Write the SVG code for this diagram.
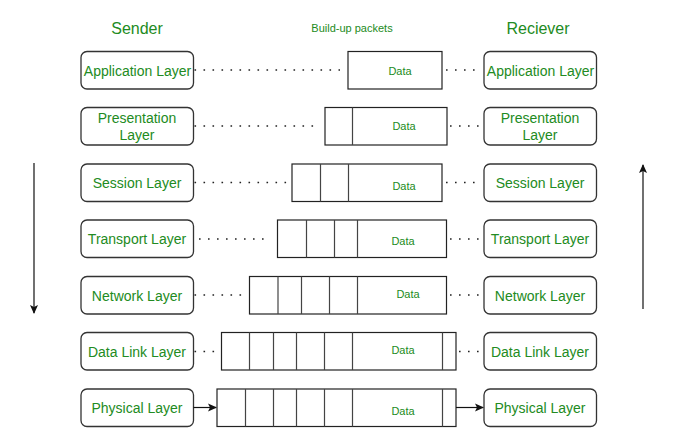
<svg xmlns="http://www.w3.org/2000/svg" width="694" height="438" viewBox="0 0 694 438">
<defs>
<style>
.box{fill:#fff;stroke:#333;stroke-width:1.3}
.pk{fill:#fff;stroke:#222;stroke-width:1.2}
.dv{stroke:#444;stroke-width:1.2}
.lt{font-family:"Liberation Sans",Arial,sans-serif;font-size:14px;fill:#228b22;text-anchor:middle;dominant-baseline:central}
.dt{font-family:"Liberation Sans",Arial,sans-serif;font-size:11px;fill:#228b22;text-anchor:middle;dominant-baseline:central}
.hd{font-family:"Liberation Sans",Arial,sans-serif;font-size:16px;fill:#228b22;text-anchor:middle;dominant-baseline:central}
.dot{stroke:#222;stroke-width:1.6;stroke-dasharray:1.6 7.4;fill:none}
.ln{stroke:#111;stroke-width:1.2;fill:none}
</style>
<marker id="ah" markerWidth="10" markerHeight="10" refX="8" refY="5" orient="auto" markerUnits="userSpaceOnUse">
<path d="M0,1 L9,5 L0,9 L2,5 Z" fill="#111"/>
</marker>
</defs>
<rect width="694" height="438" fill="#fff"/>
<text class="hd" x="137" y="28">Sender</text>
<text class="dt" x="352" y="28">Build-up packets</text>
<text class="hd" x="538" y="28">Reciever</text>

<g id="sender">
<g id="s-app"><rect class="box" x="81" y="51.5" width="112.5" height="37.5" rx="6"/><text class="lt" x="137.5" y="70.5">Application Layer</text></g>
<g id="s-pres"><rect class="box" x="81" y="107.5" width="112.5" height="37.5" rx="6"/><text class="lt" x="137" y="118">Presentation</text><text class="lt" x="137" y="135">Layer</text></g>
<g id="s-sess"><rect class="box" x="81" y="164" width="112.5" height="37.5" rx="6"/><text class="lt" x="137" y="183">Session Layer</text></g>
<g id="s-trans"><rect class="box" x="81" y="220" width="112.5" height="37.5" rx="6"/><text class="lt" x="137" y="239">Transport Layer</text></g>
<g id="s-net"><rect class="box" x="81" y="276.5" width="112.5" height="37.5" rx="6"/><text class="lt" x="137" y="295.5">Network Layer</text></g>
<g id="s-dl"><rect class="box" x="81" y="332.5" width="112.5" height="37.5" rx="6"/><text class="lt" x="137" y="351.5">Data Link Layer</text></g>
<g id="s-phy"><rect class="box" x="81" y="389" width="112.5" height="37.5" rx="6"/><text class="lt" x="137" y="408">Physical Layer</text></g>
</g>

<g id="receiver">
<g id="r-app"><rect class="box" x="484" y="51.5" width="112.5" height="37.5" rx="6"/><text class="lt" x="540.5" y="70.5">Application Layer</text></g>
<g id="r-pres"><rect class="box" x="484" y="107.5" width="112.5" height="37.5" rx="6"/><text class="lt" x="540" y="118">Presentation</text><text class="lt" x="540" y="135">Layer</text></g>
<g id="r-sess"><rect class="box" x="484" y="164" width="112.5" height="37.5" rx="6"/><text class="lt" x="540" y="183">Session Layer</text></g>
<g id="r-trans"><rect class="box" x="484" y="220" width="112.5" height="37.5" rx="6"/><text class="lt" x="540" y="239">Transport Layer</text></g>
<g id="r-net"><rect class="box" x="484" y="276.5" width="112.5" height="37.5" rx="6"/><text class="lt" x="540" y="295.5">Network Layer</text></g>
<g id="r-dl"><rect class="box" x="484" y="332.5" width="112.5" height="37.5" rx="6"/><text class="lt" x="540" y="351.5">Data Link Layer</text></g>
<g id="r-phy"><rect class="box" x="484" y="389" width="112.5" height="37.5" rx="6"/><text class="lt" x="540" y="408">Physical Layer</text></g>
</g>

<g id="packets">
<g id="p-app"><rect class="pk" x="348" y="51.5" width="94" height="37.5"/><text class="dt" x="400" y="71">Data</text></g>
<g id="p-pres"><rect class="pk" x="325" y="107.5" width="122" height="37.5"/><line class="dv" x1="352.5" y1="107.5" x2="352.5" y2="145"/><text class="dt" x="404" y="126">Data</text></g>
<g id="p-sess"><rect class="pk" x="292" y="164" width="150" height="37.5"/><line class="dv" x1="320.5" y1="164" x2="320.5" y2="201.5"/><line class="dv" x1="348.5" y1="164" x2="348.5" y2="201.5"/><text class="dt" x="404" y="186">Data</text></g>
<g id="p-trans"><rect class="pk" x="277.5" y="220" width="169" height="37.5"/><line class="dv" x1="306.5" y1="220" x2="306.5" y2="257.5"/><line class="dv" x1="334.5" y1="220" x2="334.5" y2="257.5"/><line class="dv" x1="357.5" y1="220" x2="357.5" y2="257.5"/><text class="dt" x="403" y="240.5">Data</text></g>
<g id="p-net"><rect class="pk" x="249.5" y="276.5" width="197" height="37.5"/><line class="dv" x1="278" y1="276.5" x2="278" y2="314"/><line class="dv" x1="301.5" y1="276.5" x2="301.5" y2="314"/><line class="dv" x1="329.5" y1="276.5" x2="329.5" y2="314"/><line class="dv" x1="357.5" y1="276.5" x2="357.5" y2="314"/><text class="dt" x="408" y="293.5">Data</text></g>
<g id="p-dl"><rect class="pk" x="221.5" y="332.5" width="234.5" height="37.5"/><line class="dv" x1="249.5" y1="332.5" x2="249.5" y2="370"/><line class="dv" x1="273.5" y1="332.5" x2="273.5" y2="370"/><line class="dv" x1="296.5" y1="332.5" x2="296.5" y2="370"/><line class="dv" x1="324.5" y1="332.5" x2="324.5" y2="370"/><line class="dv" x1="352.5" y1="332.5" x2="352.5" y2="370"/><line class="dv" x1="442.5" y1="332.5" x2="442.5" y2="370"/><text class="dt" x="403" y="350">Data</text></g>
<g id="p-phy"><rect class="pk" x="217" y="389" width="239" height="37.5"/><line class="dv" x1="245.5" y1="389" x2="245.5" y2="426.5"/><line class="dv" x1="273.5" y1="389" x2="273.5" y2="426.5"/><line class="dv" x1="296.5" y1="389" x2="296.5" y2="426.5"/><line class="dv" x1="324.5" y1="389" x2="324.5" y2="426.5"/><line class="dv" x1="352.5" y1="389" x2="352.5" y2="426.5"/><line class="dv" x1="442.5" y1="389" x2="442.5" y2="426.5"/><text class="dt" x="403" y="410.5">Data</text></g>
</g>

<g id="connectors">
<line class="dot" x1="194.5" y1="70" x2="340" y2="70"/>
<line class="dot" x1="446" y1="70" x2="482" y2="70"/>
<line class="dot" x1="194.5" y1="126" x2="318" y2="126"/>
<line class="dot" x1="450" y1="126" x2="483" y2="126"/>
<line class="dot" x1="194.5" y1="182.5" x2="288" y2="182.5"/>
<line class="dot" x1="446" y1="182.5" x2="482" y2="182.5"/>
<line class="dot" x1="199" y1="239" x2="270" y2="239"/>
<line class="dot" x1="450" y1="239" x2="483" y2="239"/>
<line class="dot" x1="194.5" y1="295" x2="248" y2="295"/>
<line class="dot" x1="450" y1="295" x2="483" y2="295"/>
<line class="dot" x1="194.5" y1="351.5" x2="219" y2="351.5"/>
<line class="dot" x1="459" y1="351.5" x2="483" y2="351.5"/>
<line class="ln" x1="193.5" y1="407.5" x2="216" y2="407.5" marker-end="url(#ah)"/>
<line class="ln" x1="456" y1="407.5" x2="483" y2="407.5" marker-end="url(#ah)"/>
<line class="ln" x1="34" y1="163" x2="34" y2="313" marker-end="url(#ah)"/>
<line class="ln" x1="643" y1="309" x2="643" y2="165" marker-end="url(#ah)"/>
</g>
</svg>
